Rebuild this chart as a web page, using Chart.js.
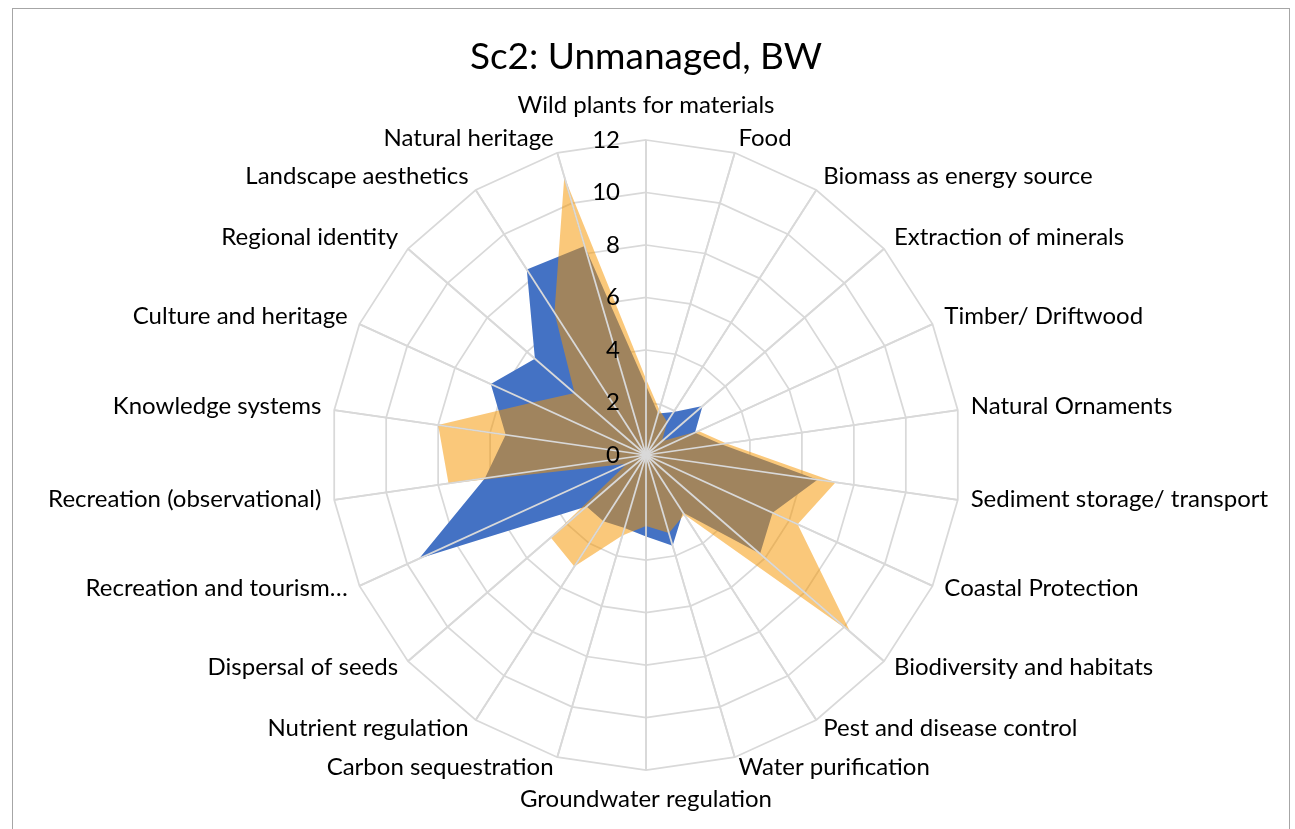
<!DOCTYPE html>
<html>
<head>
<meta charset="utf-8">
<title>Sc2: Unmanaged, BW</title>
<script src="https://cdn.jsdelivr.net/npm/chart.js@4.4.1/dist/chart.umd.min.js"></script>
<style>
    html, body { margin: 0; padding: 0; background: #ffffff; }
    .chart-wrap { position: relative; width: 1295px; height: 829px; overflow: hidden; }
    .chart-frame { position: absolute; left: 12px; top: 8px; width: 1276px; height: 840px; border: 1px solid #a6a6a6; }
    #radarChart { position: absolute; left: 0; top: 0; }
</style>
</head>
<body>
<div class="chart-wrap">
    <div class="chart-frame"></div>
    <canvas id="radarChart" width="1295" height="829"></canvas>
</div>
<script>
// Ecosystem services, clockwise from the top
const categories = [
    'Wild plants for materials', 'Food', 'Biomass as energy source', 'Extraction of minerals',
    'Timber/ Driftwood', 'Natural Ornaments', 'Sediment storage/ transport', 'Coastal Protection',
    'Biodiversity and habitats', 'Pest and disease control', 'Water purification', 'Groundwater regulation',
    'Carbon sequestration', 'Nutrient regulation', 'Dispersal of seeds', 'Recreation and tourism\u2026',
    'Recreation (observational)', 'Knowledge systems', 'Culture and heritage', 'Regional identity',
    'Landscape aesthetics', 'Natural heritage'
];

const series1 = [2.65, 1.65, 1.95, 2.85, 2.05, 2.9, 6.6, 5.3, 5.75, 2.6, 3.6, 3.1,
                 2.9, 3.0, 3.0, 9.5, 6.2, 5.4, 6.5, 5.6, 8.4, 8.3];
const series2 = [2.9, 1.8, 1.5, 0.8, 2.2, 3.1, 7.3, 6.35, 10.3, 2.7, 3.1, 2.7,
                 3.2, 5.05, 4.8, 0.8, 7.6, 8.0, 4.8, 3.6, 6.45, 11.05];

const tickValues = [0, 2, 4, 6, 8, 10, 12];

const fontFamily = 'Lato, "Open Sans", sans-serif';
const gridColor = '#d9d9d9';

// Axis lines, value labels and category labels drawn above the filled areas
const overlayPlugin = {
    id: 'overlay',
    afterDatasetsDraw(chart) {
        const scale = chart.scales.r;
        const ctx = chart.ctx;
        const n = chart.data.labels.length;
        ctx.save();

        ctx.strokeStyle = gridColor;
        ctx.lineWidth = 1.75;
        for (let i = 0; i < n; i++) {
            const p = scale.getPointPosition(i, scale.drawingArea);
            ctx.beginPath();
            ctx.moveTo(scale.xCenter, scale.yCenter);
            ctx.lineTo(p.x, p.y);
            ctx.stroke();
        }

        ctx.fillStyle = '#000000';
        ctx.font = '24px ' + fontFamily;
        ctx.textAlign = 'right';
        ctx.textBaseline = 'middle';
        tickValues.forEach(v => {
            const y = scale.yCenter - scale.getDistanceFromCenterForValue(v);
            ctx.fillText(String(v), scale.xCenter - 26, y);
        });

        for (let i = 0; i < n; i++) {
            const angle = scale.getIndexAngle(i);
            const sin = Math.sin(angle);
            const cos = Math.cos(angle);
            const p = scale.getPointPosition(i, scale.drawingArea + 13);
            let x = p.x;
            let y = p.y - 2.5;
            if (Math.abs(sin) < 0.01) {
                ctx.textAlign = 'center';
                y = cos > 0 ? p.y - 22 : p.y + 16;
            } else {
                ctx.textAlign = sin > 0 ? 'left' : 'right';
            }
            ctx.fillText(chart.data.labels[i], x, y);
        }
        ctx.restore();
    }
};

new Chart(document.getElementById('radarChart'), {
    type: 'radar',
    data: {
        labels: categories,
        datasets: [{
            label: 'Series1',
            data: series1,
            backgroundColor: '#4472c4',
            borderWidth: 0,
            pointRadius: 0,
            fill: true,
            order: 2
        }, {
            label: 'Series2',
            data: series2,
            backgroundColor: 'rgba(245, 150, 0, 0.52)',
            borderWidth: 0,
            pointRadius: 0,
            fill: true,
            order: 1
        }]
    },
    options: {
        responsive: false,
        animation: false,
        devicePixelRatio: 1,
        layout: {
            padding: { left: 331, right: 334, top: 0, bottom: 59 }
        },
        plugins: {
            legend: { display: false },
            tooltip: { enabled: false },
            title: {
                display: true,
                text: 'Sc2: Unmanaged, BW',
                color: '#000000',
                font: { family: fontFamily, size: 37, weight: 'normal', lineHeight: 1.2 },
                padding: { top: 35, bottom: 60.6 }
            }
        },
        scales: {
            r: {
                min: 0,
                max: 12,
                ticks: { stepSize: 2, display: false },
                grid: { color: gridColor, lineWidth: 1.75 },
                angleLines: { color: gridColor, lineWidth: 1.75 },
                pointLabels: { display: false }
            }
        }
    },
    plugins: [overlayPlugin]
});
</script>
</body>
</html>
